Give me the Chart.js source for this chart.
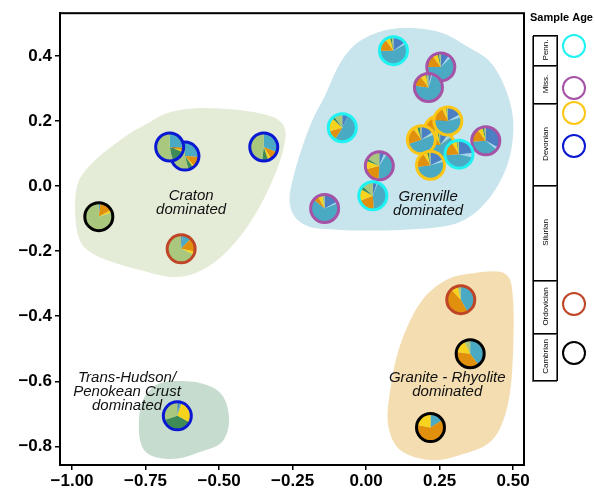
<!DOCTYPE html>
<html>
<head>
<meta charset="utf-8">
<script src="https://cdn.jsdelivr.net/npm/chart.js@4.4.0/dist/chart.umd.min.js"></script>
<style>
  html, body { margin: 0; padding: 0; background: #fff; }
  #wrap { width: 595px; height: 494px; }
</style>
</head>
<body>
<div id="wrap"><canvas id="chart"></canvas></div>
<script>
// sample coordinates (MDS dim 1 / dim 2), in drawing order
const sampleX = [-0.616, -0.668, -0.348, -0.909, -0.629, -0.642,
                 0.322, 0.354, 0.219,
                 0.093, 0.254, 0.212, -0.081, 0.045, 0.023, -0.141, 0.407,
                 0.246, 0.252, 0.278, 0.188, 0.219, 0.316];
const sampleY = [0.092, 0.120, 0.120, -0.094, -0.193, -0.706,
                 -0.349, -0.515, -0.742,
                 0.416, 0.366, 0.303, 0.179, 0.062, -0.030, -0.069, 0.139,
                 0.172, 0.126, 0.200, 0.142, 0.064, 0.098];
const sampleAge = ['Devonian', 'Devonian', 'Devonian', 'Cambrian', 'Ordovician', 'Devonian',
                   'Ordovician', 'Cambrian', 'Cambrian',
                   'Penn.', 'Miss.', 'Miss.', 'Penn.', 'Miss.', 'Penn.', 'Miss.', 'Miss.',
                   'Devonian2', 'Devonian2', 'Devonian2', 'Devonian2', 'Devonian2', 'Penn.'];
// source fractions: dark blue, light blue, teal, orange, yellow, dark green, light green
const sampleMix = [
  [0, 0, 0.26, 0.12, 0.02, 0.06, 0.54],
  [0, 0, 0.26, 0.03, 0.02, 0.15, 0.54],
  [0, 0, 0.31, 0.10, 0.04, 0.07, 0.48],
  [0, 0, 0.02, 0.15, 0.03, 0, 0.80],
  [0.02, 0, 0.10, 0.16, 0.04, 0, 0.68],
  [0.03, 0, 0.02, 0, 0.28, 0.37, 0.30],
  [0, 0, 0.42, 0.46, 0.08, 0, 0.04],
  [0, 0, 0.40, 0.37, 0.16, 0, 0.07],
  [0, 0, 0.16, 0.62, 0.22, 0, 0],
  [0.15, 0.02, 0.58, 0.15, 0.06, 0.02, 0.02],
  [0.10, 0.03, 0.62, 0.15, 0.06, 0.02, 0.02],
  [0.03, 0.02, 0.72, 0.13, 0.07, 0.01, 0.02],
  [0.07, 0, 0.52, 0.12, 0.16, 0.03, 0.10],
  [0.06, 0.03, 0.42, 0.20, 0.10, 0.03, 0.16],
  [0.05, 0.01, 0.43, 0.20, 0.14, 0.04, 0.13],
  [0.17, 0.02, 0.67, 0.06, 0.05, 0, 0.03],
  [0.33, 0.03, 0.38, 0.16, 0.06, 0.02, 0.02],
  [0.12, 0.04, 0.60, 0.16, 0.06, 0.01, 0.01],
  [0.10, 0.05, 0.60, 0.17, 0.05, 0.01, 0.02],
  [0.17, 0.04, 0.55, 0.17, 0.05, 0.01, 0.01],
  [0.15, 0.04, 0.51, 0.20, 0.05, 0.03, 0.02],
  [0.18, 0.03, 0.52, 0.18, 0.05, 0.02, 0.02],
  [0.24, 0.05, 0.45, 0.17, 0.06, 0.01, 0.02]
];
const mixColors = ['#4b7fc3', '#9fd4ea', '#4aa9c3', '#e0900c', '#f8d31e', '#3e8b58', '#a9c77d'];
const ageColors = { 'Penn.': '#1ff2f2', 'Miss.': '#a652a6', 'Devonian2': '#fcc617',
                    'Devonian': '#0a18d4', 'Ordovician': '#bf4526', 'Cambrian': '#000000' };

const xTicks = [-1.0, -0.75, -0.5, -0.25, 0, 0.25, 0.5];
const yTicks = [-0.8, -0.6, -0.4, -0.2, 0, 0.2, 0.4];

// province outlines
const cratonX = [-0.541, -0.361, -0.282, -0.282, -0.333, -0.412, -0.514, -0.633, -0.769, -0.922, -0.980, -0.986, -0.939, -0.837, -0.752, -0.667];
const cratonY = [0.240, 0.224, 0.188, 0.111, -0.012, -0.135, -0.233, -0.279, -0.258, -0.212, -0.150, -0.012, 0.064, 0.141, 0.188, 0.227];
const grenvilleX = [-0.027, 0.065, 0.167, 0.259, 0.347, 0.422, 0.473, 0.500, 0.490, 0.449, 0.381, 0.286, 0.116, -0.088, -0.207, -0.259, -0.241, -0.190, -0.139, -0.088];
const grenvilleY = [0.442, 0.479, 0.485, 0.470, 0.427, 0.381, 0.301, 0.203, 0.095, 0.003, -0.074, -0.120, -0.135, -0.135, -0.120, -0.058, 0.049, 0.187, 0.279, 0.378];
const graniteX = [0.272, 0.371, 0.473, 0.500, 0.497, 0.473, 0.422, 0.320, 0.218, 0.116, 0.075, 0.082, 0.116, 0.184];
const graniteY = [-0.289, -0.267, -0.270, -0.350, -0.565, -0.703, -0.786, -0.826, -0.842, -0.811, -0.734, -0.627, -0.488, -0.359];
const hudsonX = [-0.684, -0.565, -0.490, -0.466, -0.490, -0.565, -0.650, -0.735, -0.769, -0.769, -0.741];
const hudsonY = [-0.602, -0.605, -0.642, -0.719, -0.786, -0.817, -0.838, -0.826, -0.780, -0.688, -0.633];

const regions = [
  { xs: cratonX, ys: cratonY, color: '#e4ecd7', label: ['Craton', 'dominated'], lx: -0.595, ly: -0.052 },
  { xs: grenvilleX, ys: grenvilleY, color: '#c8e4ec', label: ['Grenville', 'dominated'], lx: 0.211, ly: -0.055 },
  { xs: graniteX, ys: graniteY, color: '#f3ddb1', label: ['Granite - Rhyolite', 'dominated'], lx: 0.276, ly: -0.611 },
  { xs: hudsonX, ys: hudsonY, color: '#c5dccf', label: ['Trans-Hudson/', 'Penokean Crust', 'dominated'], lx: -0.813, ly: -0.633 }
];

const periods = ['Penn.', 'Miss.', 'Devonian', 'Silurian', 'Ordovician', 'Cambrian'];
const periodTops = [35, 65, 103, 185, 280, 333, 380];
const legendAges = ['Penn.', 'Miss.', 'Devonian2', 'Devonian', 'Ordovician', 'Cambrian'];
const legendRows = [46, 88, 113, 146, 304, 353];

const fmt = (v, d) => (v < 0 ? '\u2212' : '') + Math.abs(v).toFixed(d);

function closedSpline(ctx, pts) {
  const n = pts.length;
  ctx.beginPath();
  ctx.moveTo(pts[0][0], pts[0][1]);
  for (let i = 0; i < n; i++) {
    const p0 = pts[(i - 1 + n) % n], p1 = pts[i], p2 = pts[(i + 1) % n], p3 = pts[(i + 2) % n];
    ctx.bezierCurveTo(p1[0] + (p2[0] - p0[0]) / 6, p1[1] + (p2[1] - p0[1]) / 6,
                      p2[0] - (p3[0] - p1[0]) / 6, p2[1] - (p3[1] - p1[1]) / 6,
                      p2[0], p2[1]);
  }
  ctx.closePath();
}

const mapPlugin = {
  id: 'mapPlugin',
  beforeDatasetsDraw(chart) {
    const { ctx, scales: { x, y } } = chart;
    ctx.save();
    regions.forEach(r => {
      const pts = r.xs.map((v, i) => [x.getPixelForValue(v), y.getPixelForValue(r.ys[i])]);
      closedSpline(ctx, pts);
      ctx.fillStyle = r.color;
      ctx.fill();
    });
    ctx.fillStyle = '#111';
    ctx.font = 'italic 15px "Liberation Sans", Arial, sans-serif';
    ctx.textAlign = 'center';
    ctx.textBaseline = 'middle';
    regions.forEach(r => {
      const px = x.getPixelForValue(r.lx), py = y.getPixelForValue(r.ly);
      const top = py - (r.label.length - 1) * 14 / 2;
      r.label.forEach((t, i) => ctx.fillText(t, px, top + i * 14));
    });
    ctx.restore();
  },
  afterDatasetsDraw(chart) {
    const { ctx, chartArea: a } = chart;
    const meta = chart.getDatasetMeta(0);
    ctx.save();
    meta.data.forEach((pt, i) => {
      const r = 13.5;
      let ang = -Math.PI / 2;
      const tot = sampleMix[i].reduce((s, v) => s + v, 0);
      sampleMix[i].forEach((f, k) => {
        if (f <= 0) return;
        const end = ang + f / tot * Math.PI * 2;
        ctx.beginPath();
        ctx.moveTo(pt.x, pt.y);
        ctx.arc(pt.x, pt.y, r, ang, end);
        ctx.closePath();
        ctx.fillStyle = mixColors[k];
        ctx.fill();
        ang = end;
      });
      ctx.beginPath();
      ctx.arc(pt.x, pt.y, 14, 0, Math.PI * 2);
      ctx.lineWidth = 3;
      ctx.strokeStyle = ageColors[sampleAge[i]];
      ctx.stroke();
    });
    // frame
    ctx.lineWidth = 2;
    ctx.strokeStyle = '#000';
    ctx.strokeRect(a.left, a.top, a.right - a.left, a.bottom - a.top);

    // age legend
    ctx.fillStyle = '#000';
    ctx.font = 'bold 11px "Liberation Sans", Arial, sans-serif';
    ctx.textAlign = 'left';
    ctx.textBaseline = 'middle';
    ctx.fillText('Sample Age', 530, 18);
    ctx.lineWidth = 1;
    ctx.font = '8px "Liberation Sans", Arial, sans-serif';
    ctx.textAlign = 'center';
    periods.forEach((p, i) => {
      const t = periodTops[i], b = periodTops[i + 1];
      ctx.strokeStyle = '#666';
      ctx.strokeRect(532.5, t + 1.5, 24, b - t);
      ctx.strokeStyle = '#000';
      ctx.strokeRect(533.5, t + 0.5, 24, b - t);
      ctx.save();
      ctx.translate(545.5, (t + b) / 2);
      ctx.rotate(-Math.PI / 2);
      ctx.fillText(p, 0, 0);
      ctx.restore();
    });
    legendAges.forEach((g, i) => {
      ctx.beginPath();
      ctx.arc(574, legendRows[i], 11, 0, Math.PI * 2);
      ctx.lineWidth = 2;
      ctx.strokeStyle = ageColors[g];
      ctx.stroke();
    });
    ctx.restore();
  }
};

new Chart(document.getElementById('chart'), {
  type: 'scatter',
  data: {
    datasets: [{
      data: sampleX.map((v, i) => ({ x: v, y: sampleY[i] })),
      pointRadius: 0,
      pointHoverRadius: 0
    }]
  },
  options: {
    responsive: true,
    maintainAspectRatio: false,
    animation: false,
    events: [],
    layout: { padding: { left: 0, right: 71, top: 13, bottom: 0 } },
    plugins: { legend: { display: false }, tooltip: { enabled: false } },
    scales: {
      x: {
        type: 'linear',
        min: -1.041, max: 0.537,
        afterBuildTicks: s => { s.ticks = xTicks.map(v => ({ value: v })); },
        afterFit: s => { s.height = 29; },
        border: { display: true, color: '#000', width: 2 },
        grid: { display: true, drawOnChartArea: false, drawTicks: true, tickLength: 5, color: '#000', lineWidth: 1.5 },
        ticks: {
          padding: 1, color: '#000', maxRotation: 0,
          font: { family: '"Liberation Sans", Arial, sans-serif', size: 17, weight: 'bold' },
          callback: v => fmt(v, 2)
        }
      },
      y: {
        type: 'linear',
        min: -0.857, max: 0.531,
        afterBuildTicks: s => { s.ticks = yTicks.map(v => ({ value: v })); },
        afterFit: s => { s.width = 60; },
        border: { display: true, color: '#000', width: 2 },
        grid: { display: true, drawOnChartArea: false, drawTicks: true, tickLength: 5, color: '#000', lineWidth: 1.5 },
        ticks: {
          padding: 3, color: '#000',
          font: { family: '"Liberation Sans", Arial, sans-serif', size: 17, weight: 'bold' },
          callback: v => fmt(v, 1)
        }
      }
    }
  },
  plugins: [mapPlugin]
});
</script>
</body>
</html>
